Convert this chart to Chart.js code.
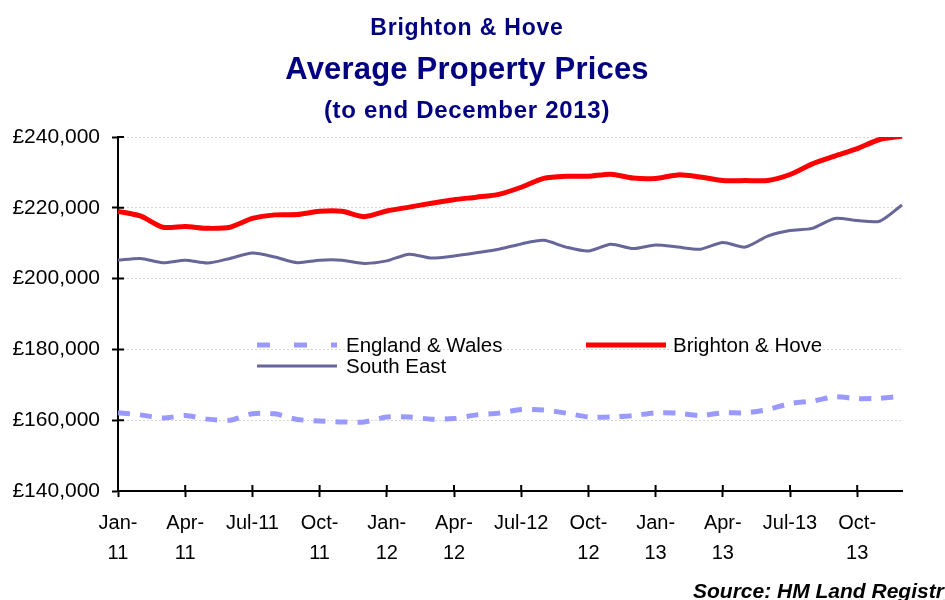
<!DOCTYPE html>
<html>
<head>
<meta charset="utf-8">
<title>Brighton & Hove Average Property Prices</title>
<script src="https://cdn.jsdelivr.net/npm/chart.js@4.4.0/dist/chart.umd.min.js"></script>
<style>
  html, body { margin: 0; padding: 0; background: #fff; }
  #wrap { position: relative; width: 945px; height: 600px; overflow: hidden; font-family: 'Liberation Sans', Arial, sans-serif; }
  #chart { position: absolute; left: 0; top: 0; }
  .title { position: absolute; left: 0; width: 934px; text-align: center; color: #000080; font-weight: bold; white-space: nowrap; }
  #t1 { top: 12px; font-size: 23px; line-height: 30px; letter-spacing: 0.8px; }
  #t2 { top: 49px; font-size: 31px; line-height: 40px; letter-spacing: 0.2px; }
  #t3 { top: 95px; font-size: 24px; line-height: 30px; letter-spacing: 0.7px; }
  #source { position: absolute; left: 693px; top: 576px; font-size: 21px; line-height: 30px; font-weight: bold; font-style: italic; white-space: nowrap; color: #000; }
</style>
</head>
<body>
<div id="wrap">
  <canvas id="chart" width="945" height="600"></canvas>
  <div class="title" id="t1">Brighton &amp; Hove</div>
  <div class="title" id="t2">Average Property Prices</div>
  <div class="title" id="t3">(to end December 2013)</div>
  <div id="source">Source: HM Land Registry</div>
</div>
<script>
// Months Jan-11 .. Dec-13
const months = [
  'Jan-11','Feb-11','Mar-11','Apr-11','May-11','Jun-11','Jul-11','Aug-11','Sep-11','Oct-11','Nov-11','Dec-11',
  'Jan-12','Feb-12','Mar-12','Apr-12','May-12','Jun-12','Jul-12','Aug-12','Sep-12','Oct-12','Nov-12','Dec-12',
  'Jan-13','Feb-13','Mar-13','Apr-13','May-13','Jun-13','Jul-13','Aug-13','Sep-13','Oct-13','Nov-13','Dec-13'
];

// Labels shown every third month (wrapped like the original)
const tickLabels = [
  ['Jan-','11'], ['Apr-','11'], 'Jul-11', ['Oct-','11'],
  ['Jan-','12'], ['Apr-','12'], 'Jul-12', ['Oct-','12'],
  ['Jan-','13'], ['Apr-','13'], 'Jul-13', ['Oct-','13']
];

const englandWales = [
  162100, 161500, 160600, 161300, 160300, 160000, 161800, 161800, 160200, 159800, 159500, 159500,
  160900, 160900, 160300, 160500, 161500, 162000, 163000, 162900, 162000, 160900, 160900, 161300,
  162100, 162000, 161300, 162100, 162100, 163000, 164700, 165400, 166600, 166100, 166200, 166800
];

const brightonHove = [
  219000, 217700, 214500, 214700, 214200, 214500, 217000, 218000, 218100, 219000, 219000, 217500,
  219100, 220200, 221300, 222300, 223000, 223800, 225800, 228300, 228900, 228900, 229500, 228400,
  228300, 229300, 228700, 227700, 227700, 227700, 229400, 232400, 234600, 236700, 239300, 240200
];

const southEast = [
  205200, 205700, 204500, 205200, 204400, 205700, 207200, 206100, 204500, 205200, 205200, 204300,
  205000, 206900, 205800, 206400, 207300, 208300, 209800, 210800, 208900, 207800, 209700, 208500,
  209500, 208900, 208300, 210200, 208900, 212000, 213600, 214200, 217000, 216400, 216200, 220800
];

const yTicks = [140000, 160000, 180000, 200000, 220000, 240000];

const FONT = "'Liberation Sans', Arial, sans-serif";

// Legend drawn inside the plot, laid out like the spreadsheet one
const sheetLegend = {
    id: 'sheetLegend',
    afterDatasetsDraw(chart) {
        const ctx = chart.ctx;
        const spots = [
            { x: 257, y: 345, tx: 346 },
            { x: 586, y: 345, tx: 673 },
            { x: 257, y: 366, tx: 346 }
        ];
        chart.data.datasets.forEach((ds, i) => {
            const p = spots[i];
            ctx.save();
            ctx.strokeStyle = ds.borderColor;
            ctx.lineWidth = ds.borderWidth;
            ctx.lineCap = 'butt';
            ctx.setLineDash(ds.borderDash ? [13, 24] : []);
            ctx.beginPath();
            ctx.moveTo(p.x, p.y);
            ctx.lineTo(p.x + 80, p.y);
            ctx.stroke();
            ctx.setLineDash([]);
            ctx.fillStyle = '#000';
            ctx.font = '20.5px ' + FONT;
            ctx.textBaseline = 'middle';
            ctx.fillText(ds.label, p.tx, p.y + 1);
            ctx.restore();
        });
    }
};

// Tick marks that cross the axis lines
const innerTicks = {
    id: 'innerTicks',
    afterDraw(chart) {
        const { ctx, chartArea, scales } = chart;
        ctx.save();
        ctx.strokeStyle = '#000';
        ctx.lineWidth = 2;
        ctx.beginPath();
        scales.x.ticks.forEach((t, i) => {
            if (i % 3 !== 0) return;
            const x = scales.x.getPixelForTick(i);
            ctx.moveTo(x, chartArea.bottom);
            ctx.lineTo(x, chartArea.bottom - 6);
        });
        scales.y.ticks.forEach((t, i) => {
            const y = scales.y.getPixelForTick(i);
            ctx.moveTo(chartArea.left, y);
            ctx.lineTo(chartArea.left + 6, y);
        });
        ctx.stroke();
        ctx.restore();
    }
};

new Chart(document.getElementById('chart'), {
    type: 'line',
    data: {
        labels: months,
        datasets: [
            {
                label: 'England & Wales',
                data: englandWales,
                borderColor: '#9999ff',
                borderWidth: 5,
                borderDash: [12, 10],
                borderCapStyle: 'butt',
                pointRadius: 0,
                tension: 0.25,
                fill: false
            },
            {
                label: 'Brighton & Hove',
                data: brightonHove,
                borderColor: '#ff0000',
                borderWidth: 5,
                pointRadius: 0,
                tension: 0.25,
                fill: false
            },
            {
                label: 'South East',
                data: southEast,
                borderColor: '#666699',
                borderWidth: 3,
                pointRadius: 0,
                tension: 0.25,
                fill: false
            }
        ]
    },
    options: {
        responsive: false,
        animation: false,
        layout: {
            padding: { top: 137, right: 43, bottom: 0, left: 0 }
        },
        plugins: {
            legend: { display: false },
            title: { display: false },
            tooltip: { enabled: false }
        },
        scales: {
            x: {
                offset: false,
                afterFit: scale => { scale.height = 109; },
                border: { display: true, color: '#000', width: 2 },
                grid: {
                    drawOnChartArea: false,
                    drawTicks: true,
                    tickLength: 6,
                    tickWidth: 2,
                    tickColor: c => (c.index % 3 === 0 ? '#000' : 'rgba(0,0,0,0)')
                },
                ticks: {
                    autoSkip: false,
                    maxRotation: 0,
                    minRotation: 0,
                    padding: 11,
                    color: '#000',
                    font: { family: FONT, size: 20, lineHeight: 1.5 },
                    callback: function(value, index) {
                        return index % 3 === 0 ? tickLabels[index / 3] : '';
                    }
                }
            },
            y: {
                min: yTicks[0],
                max: yTicks[yTicks.length - 1],
                afterFit: scale => { scale.width = 118; },
                afterBuildTicks: scale => { scale.ticks = yTicks.map(v => ({ value: v })); },
                border: { display: true, color: '#000', width: 2, dash: [2, 2] },
                grid: {
                    color: '#d8d8d8',
                    lineWidth: 1,
                    drawTicks: true,
                    tickLength: 6,
                    tickWidth: 2,
                    tickColor: '#000'
                },
                ticks: {
                    padding: 12,
                    color: '#000',
                    font: { family: FONT, size: 21 },
                    callback: value => '£' + value.toLocaleString('en-GB')
                }
            }
        }
    },
    plugins: [sheetLegend, innerTicks]
});
</script>
</body>
</html>
